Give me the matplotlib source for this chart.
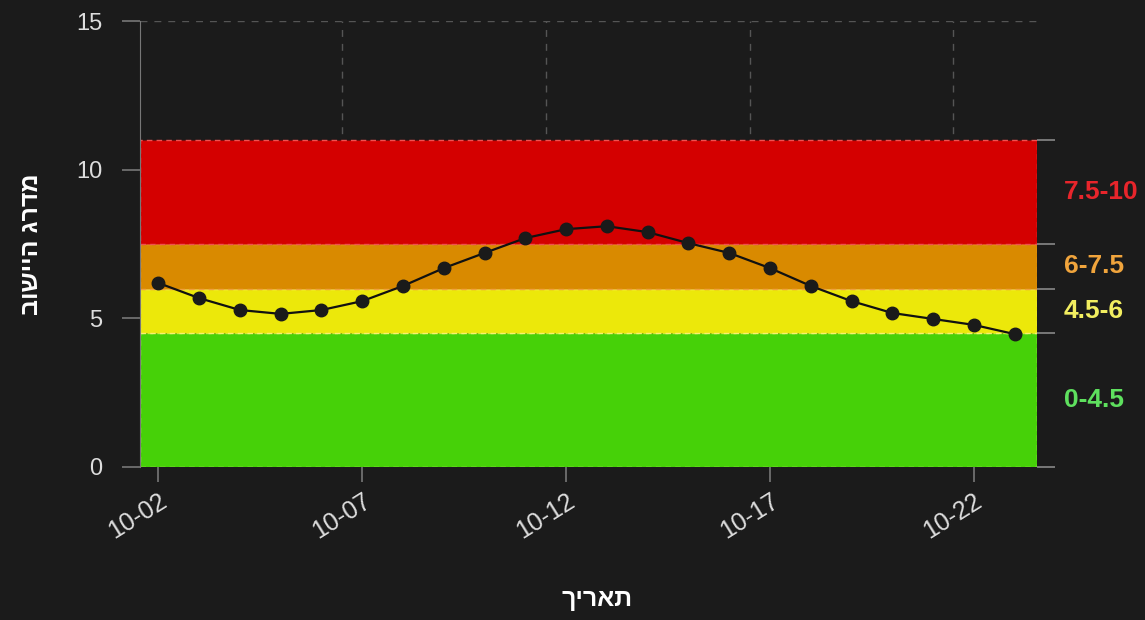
import matplotlib.pyplot as plt

plt.rcParams['font.family'] = ['Liberation Sans', 'DejaVu Sans']

# נתונים
dates = ['10-02', '10-03', '10-04', '10-05', '10-06', '10-07', '10-08',
         '10-09', '10-10', '10-11', '10-12', '10-13', '10-14', '10-15',
         '10-16', '10-17', '10-18', '10-19', '10-20', '10-21', '10-22', '10-23']
values = [6.19, 5.68, 5.28, 5.15, 5.28, 5.58, 6.09, 6.69, 7.2, 7.7, 8.0,
          8.1, 7.9, 7.53, 7.2, 6.69, 6.09, 5.58, 5.18, 4.98, 4.78, 4.47]

band_low = [0, 4.5, 6, 7.5]
band_high = [4.5, 6, 7.5, 11]
band_labels = ['0-4.5', '4.5-6', '6-7.5', '7.5-10']
band_colors = ['#46d108', '#ece80a', '#d98a00', '#d40000']
band_edge_colors = ['#b8f060', '#f8f070', '#f0a040', '#f05050']
label_colors = ['#5ee05e', '#f2ee60', '#f0a43c', '#e8252b']

tick_idx = [0, 5, 10, 15, 20]
grid_x = [4.5, 9.5, 14.5, 19.5]

bg = '#1b1b1b'
fig = plt.figure(figsize=(11.45, 6.2), dpi=100, facecolor=bg)
ax = fig.add_axes([0.1223, 0.2468, 0.9057 - 0.1223, 0.966 - 0.2468])
ax.set_facecolor(bg)

x = list(range(len(dates)))

# קווי רשת
ax.axhline(15, color='#555555', lw=1, ls=(0, (5, 5)), zorder=0)
for gx in grid_x:
    ax.axvline(gx, color='#555555', lw=1, ls=(0, (5, 5)), zorder=0)

# פסי צבע
for lo, hi, c, ec in zip(band_low, band_high, band_colors, band_edge_colors):
    ax.axhspan(lo, hi, facecolor=c, edgecolor=ec, lw=1, ls=(0, (4, 3)), zorder=1)

ax.plot(x, values, color='#111111', lw=1.6, marker='o', markersize=9,
        markerfacecolor='#1a1a1a', markeredgecolor='#1a1a1a', zorder=3)

ax.set_xlim(-0.45, 21.55)
ax.set_ylim(0, 15)
ax.set_yticks([0, 5, 10, 15])
ax.set_xticks(tick_idx)
ax.set_xticklabels([dates[i] for i in tick_idx], rotation=32, ha='right',
                   rotation_mode='anchor')

for s in ['top', 'right', 'bottom']:
    ax.spines[s].set_visible(False)
ax.spines['left'].set_color('#777777')
ax.tick_params(axis='y', colors='#777777', labelcolor='#dddddd', length=13,
               width=1.2, pad=14, labelsize=17)
ax.tick_params(axis='x', colors='#777777', labelcolor='#dddddd', length=11,
               width=1.2, pad=5, labelsize=18)

# ציר ימני לגבולות הפסים
ax2 = ax.twinx()
ax2.set_ylim(0, 15)
ax2.set_yticks(band_low + [band_high[-1]])
ax2.set_yticklabels([])
ax2.tick_params(axis='y', colors='#888888', length=13, width=1.2)
for s in ax2.spines.values():
    s.set_visible(False)

for lo, hi, lab, c in zip(band_low, band_high, band_labels, label_colors):
    ax.text(1.03, (lo + hi) / 2, lab, transform=ax.get_yaxis_transform(),
            color=c, fontsize=19, fontweight='bold', va='center', ha='left')

ax.set_ylabel('מדרג היישוב'[::-1], color='white', fontsize=18,
              fontweight='bold')
ax.yaxis.set_label_coords(-0.108, 0.5)
ax.set_xlabel('תאריך'[::-1], color='white', fontsize=18, fontweight='bold')
ax.xaxis.set_label_coords(0.51, -0.27)

fig.savefig('out.png', facecolor=bg)
